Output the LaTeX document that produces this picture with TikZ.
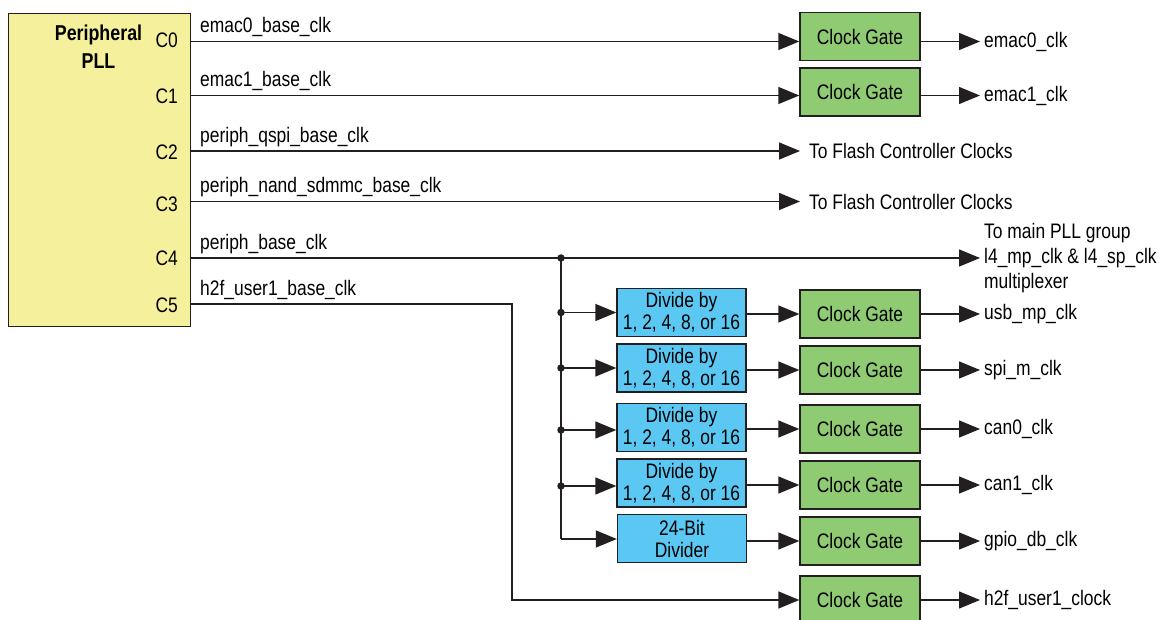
\documentclass[tikz,border=0pt]{standalone}
\usepackage{fontspec}
\setmainfont{Liberation Sans}[FakeStretch=0.83]
\usetikzlibrary{arrows.meta}
\definecolor{pllyellow}{HTML}{F5F09C}
\definecolor{gategreen}{HTML}{8FCB72}
\definecolor{divblue}{HTML}{5BC8F4}
\definecolor{linegray}{HTML}{231F20}
\begin{document}
\begin{tikzpicture}[x=1pt,y=-1pt,
  every node/.style={font=\fontsize{21}{22}\selectfont, text=black},
  wire/.style={line width=1.4pt, draw=linegray},
  arr/.style={wire, -{Triangle[length=21pt,width=17pt]}},
  gatebox/.style={draw=linegray, line width=1.4pt, fill=gategreen, minimum width=120pt, minimum height=48pt, inner sep=0pt},
  divbox/.style={draw=linegray, line width=1.4pt, fill=divblue, minimum width=129pt, minimum height=48pt, inner sep=0pt, align=center},
  outlbl/.style={anchor=west, inner xsep=4pt, inner ysep=0pt},
  wirelbl/.style={anchor=base west, inner sep=0pt},
  clbl/.style={anchor=east, inner sep=0pt},
  junc/.style={circle, fill=linegray, inner sep=0pt, minimum size=7.5pt},
]
\useasboundingbox (0,0) rectangle (1159,620);
\fill[white] (0,0) rectangle (1159,620);

% PLL block
\node[draw=linegray, line width=1.4pt, fill=pllyellow, minimum width=182pt, minimum height=313pt, anchor=north west, inner sep=0pt] (pll) at (8,13) {};
\node[font=\bfseries\fontsize{21.5}{28}\selectfont, align=center, inner sep=0pt] (pllt) at (98.5,47) {Peripheral\\PLL};

% outputs of PLL
\coordinate (o0) at (pll.east |- 0,41.5);
\coordinate (o1) at (pll.east |- 0,95.5);
\coordinate (o2) at (pll.east |- 0,151);
\coordinate (o3) at (pll.east |- 0,201.5);
\coordinate (o4) at (pll.east |- 0,258);
\coordinate (o5) at (pll.east |- 0,304);

\node[clbl] (c0) at (178,40) {C0};
\node[clbl] (c1) at (178,96) {C1};
\node[clbl] (c2) at (178,152) {C2};
\node[clbl] (c3) at (178,204) {C3};
\node[clbl] (c4) at (178,258) {C4};
\node[clbl] (c5) at (178,305) {C5};

\node[wirelbl] (l0) at (200,33) {emac0\_base\_clk};
\node[wirelbl] (l1) at (200,87) {emac1\_base\_clk};
\node[wirelbl] (l2) at (200,142.5) {periph\_qspi\_base\_clk};
\node[wirelbl] (l3) at (200,193) {periph\_nand\_sdmmc\_base\_clk};
\node[wirelbl] (l4) at (200,249.5) {periph\_base\_clk};
\node[wirelbl] (l5) at (200,295.5) {h2f\_user1\_base\_clk};

% Clock gates
\node[gatebox] (g0) at (860,36.5) {Clock Gate};
\node[gatebox] (g1) at (860,92) {Clock Gate};
\node[gatebox] (gu) at (860,314) {Clock Gate};
\node[gatebox] (gs) at (860,370) {Clock Gate};
\node[gatebox] (gc0) at (860,429) {Clock Gate};
\node[gatebox] (gc1) at (860,485) {Clock Gate};
\node[gatebox] (gg) at (860,541) {Clock Gate};
\node[gatebox] (gh) at (860,600) {Clock Gate};

% Dividers
\node[divbox] (du) at (681.5,312.5) {Divide by\\1, 2, 4, 8, or 16};
\node[divbox] (ds) at (681.5,368) {Divide by\\1, 2, 4, 8, or 16};
\node[divbox] (dc0) at (681.5,427.5) {Divide by\\1, 2, 4, 8, or 16};
\node[divbox] (dc1) at (681.5,483) {Divide by\\1, 2, 4, 8, or 16};
\node[divbox] (dg) at (682,538.5) {24-Bit\\Divider};

% Output labels
\node[outlbl] (q0) at (980,41.5) {emac0\_clk};
\node[outlbl] (q1) at (980,95.5) {emac1\_clk};
\node[outlbl, inner xsep=9pt] (f2) at (800,151) {To Flash Controller Clocks};
\node[outlbl, inner xsep=9pt] (f3) at (800,201.5) {To Flash Controller Clocks};
\node[outlbl, align=left, font=\fontsize{21}{25}\selectfont] (q4) at (980,258) {To main PLL group\\l4\_mp\_clk \& l4\_sp\_clk\\multiplexer};
\node[outlbl] (qu) at (980,314) {usb\_mp\_clk};
\node[outlbl] (qs) at (980,370) {spi\_m\_clk};
\node[outlbl] (qc0) at (980,429) {can0\_clk};
\node[outlbl] (qc1) at (980,485) {can1\_clk};
\node[outlbl] (qg) at (980,541) {gpio\_db\_clk};
\node[outlbl] (qh) at (980,600) {h2f\_user1\_clock};

% emac rows
\draw[arr] (o0) -- (g0.west |- o0);
\draw[arr] (g0.east |- q0) -- (q0.west);
\draw[arr] (o1) -- (g1.west |- o1);
\draw[arr] (g1.east |- q1) -- (q1.west);

% flash rows
\draw[arr] (o2) -- (f2.west);
\draw[arr] (o3) -- (f3.west);

% periph base clk
\draw[arr] (o4) -- (q4.west);
\node[junc] (j) at (561,258) {};
\node[junc] (ju) at (j |- 0,312.5) {};
\node[junc] (js) at (j |- 0,368) {};
\node[junc] (jc0) at (j |- 0,430) {};
\node[junc] (jc1) at (j |- 0,486) {};
\coordinate (jg) at (j |- 0,539);
\draw[wire] (j.center) -- (jg);
\draw[arr] (ju.center) -- (du.west |- ju);
\draw[arr] (js.center) -- (ds.west |- js);
\draw[arr] (jc0.center) -- (dc0.west |- jc0);
\draw[arr] (jc1.center) -- (dc1.west |- jc1);
\draw[arr] (jg) -- (dg.west |- jg);

\draw[arr] (du.east |- gu) -- (gu.west);
\draw[arr] (ds.east |- gs) -- (gs.west);
\draw[arr] (dc0.east |- gc0) -- (gc0.west);
\draw[arr] (dc1.east |- gc1) -- (gc1.west);
\draw[arr] (dg.east |- gg) -- (gg.west);

\draw[arr] (gu.east) -- (qu.west);
\draw[arr] (gs.east) -- (qs.west);
\draw[arr] (gc0.east) -- (qc0.west);
\draw[arr] (gc1.east) -- (qc1.west);
\draw[arr] (gg.east) -- (qg.west);

% h2f user1
\coordinate (hb) at (512,600);
\draw[arr] (o5) -| (hb) -- (gh.west);
\draw[arr] (gh.east) -- (qh.west);
\end{tikzpicture}
\end{document}
